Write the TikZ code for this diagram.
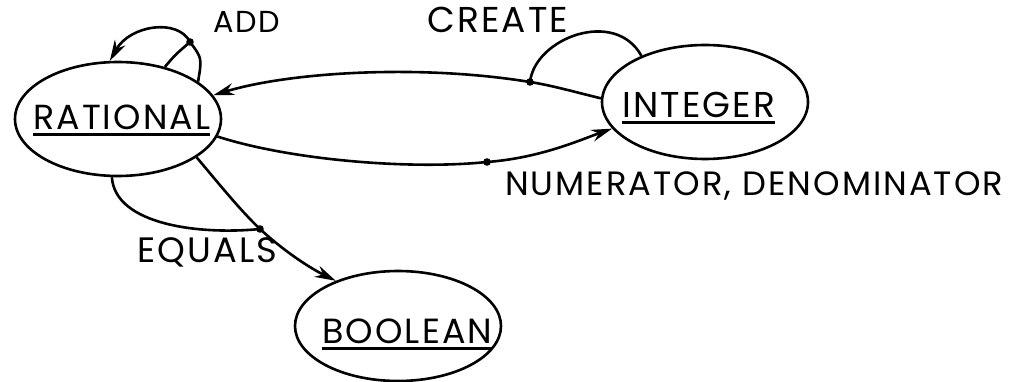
\documentclass[tikz,border=0pt]{standalone}
\usepackage{fontspec}
\setmainfont{Poppins}[LetterSpace=6]
\usetikzlibrary{shapes.geometric,arrows.meta}
\newcommand\fitw[2]{\resizebox{#1pt}{!}{#2}}
\newcommand\uln[2]{\setbox0\hbox{\fitw{#1}{#2}}\rlap{\rule[-6.5pt]{\wd0}{3pt}}\box0}
\tikzset{
  oval/.style={draw, ellipse, line width=2.6pt, minimum width=206pt, minimum height=114pt, inner sep=0pt},
  lbl/.style={inner sep=0pt, anchor=base west, font=\fontsize{28}{30}\selectfont},
  conn/.style={line width=2.6pt},
  arr/.style={conn, -{Stealth[length=21pt,width=12pt]}},
  dotmark/.style={fill=black}
}
\begin{document}
\begin{tikzpicture}[x=1pt,y=-1pt]
\useasboundingbox (0,0) rectangle (1014,382);
% states
\node[oval] (rat) at (118,119) {};
\node[oval] (int) at (705,102) {};
\node[oval, minimum height=110pt] (bool) at (398,326) {};
\node[lbl] (ratt) at (33,130) {\uln{177}{RATIONAL}};
\node[lbl] (intt) at (622,118) {\uln{153}{INTEGER}};
\node[lbl] (boolt) at (322,343) {\uln{170}{BOOLEAN}};
% labels
\node[lbl] (addl) at (213,33) {\fitw{67}{ADD}};
\node[lbl] (crel) at (427,33) {\fitw{141}{CREATE}};
\node[lbl] (numl) at (505,195) {\fitw{498}{NUMERATOR, DENOMINATOR}};
\node[lbl] (eql) at (137,262) {\fitw{140}{EQUALS}};
% junction points
\coordinate (addd) at (190,42);
\coordinate (cred) at (530,82);
\coordinate (numd) at (487,162);
\coordinate (eqd) at (260,229);
% ADD
\draw[conn] (rat.48) .. controls (175,55) .. (addd);
\draw[conn] (rat.25) .. controls (202,58) .. (addd);
\draw[arr] (addd) .. controls (178,18) and (130,25) .. (rat.98);
% CREATE
\draw[conn] (int.178) .. controls (575,92) and (550,85) .. (cred);
\draw[conn] (cred) .. controls (535,38) and (615,8) .. (int.144);
\draw[arr] (cred) .. controls (420,64) and (290,72) .. (rat.14);
% NUMERATOR, DENOMINATOR
\draw[conn] (rat.-10) .. controls (290,160) and (410,170) .. (numd);
\draw[arr] (numd) .. controls (540,158) and (580,140) .. (int.196);
% EQUALS
\draw[conn] (rat.-26) .. controls (220,185) and (240,210) .. (eqd);
\draw[conn] (rat.-96) .. controls (115,225) and (200,235) .. (eqd);
\draw[arr] (eqd) .. controls (285,252) and (310,268) .. (bool.144);
% dots
\foreach \d in {addd,cred,numd,eqd} \fill[dotmark] (\d) circle (3.8pt);
\end{tikzpicture}
\end{document}
